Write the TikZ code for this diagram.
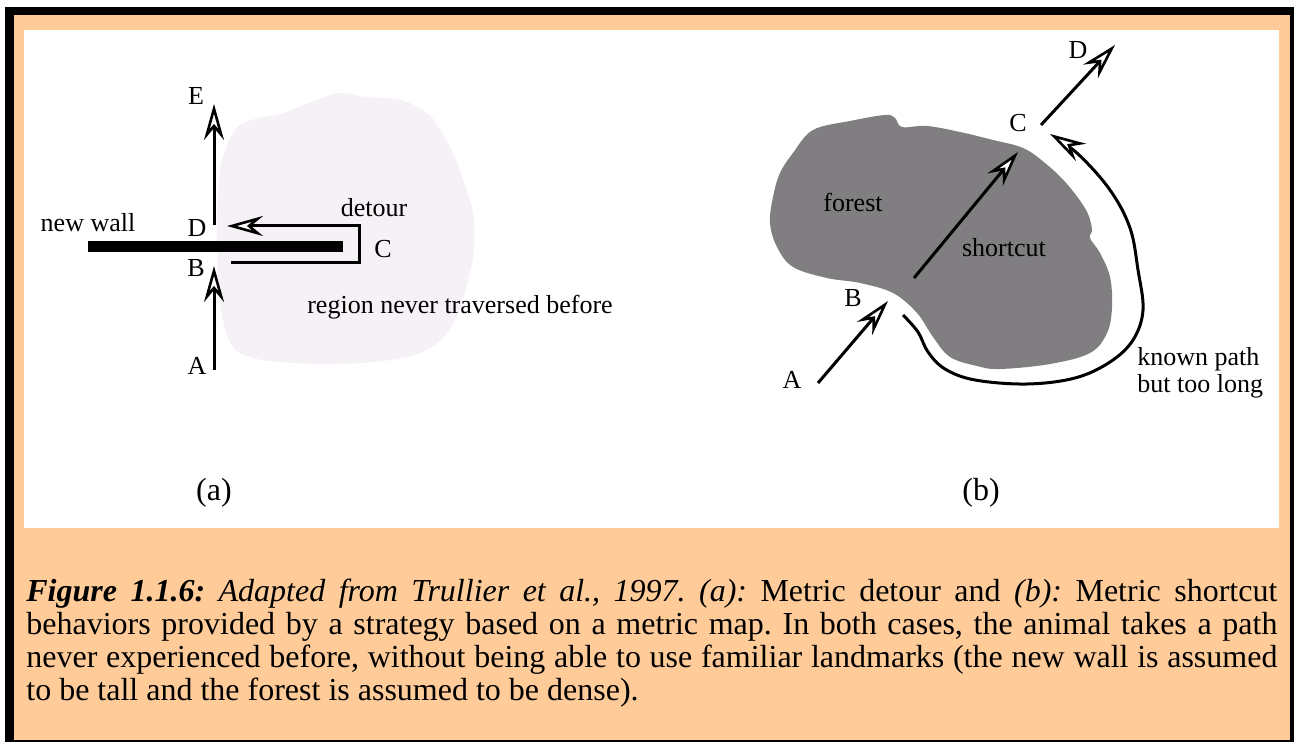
\documentclass[tikz,border=0pt]{standalone}
\usepackage{fontspec}
\setmainfont{Liberation Serif}
\usetikzlibrary{arrows.meta}
\definecolor{peach}{HTML}{FFCC99}
\definecolor{unvisited}{HTML}{F6F1F6}
\definecolor{forestgrey}{HTML}{807E81}
\begin{document}
\begin{tikzpicture}[x=0.5pt, y=-0.5pt,
  route/.style={line width=1.5pt, -{Stealth[length=18pt, width=10pt, inset=6pt, fill=white, line width=1.3pt]}},
  lbl/.style={font=\fontsize{13}{15}\selectfont, inner sep=0pt},
  tag/.style={font=\fontsize{16}{18}\selectfont, inner sep=0pt}]
\useasboundingbox (0,0) rectangle (1294,742);
% frame
\fill (5,7) rectangle (1294,742);
\fill[peach] (14,15) rectangle (1290,740);
\fill[white] (24,30) rectangle (1279,528);

% (a) metric detour
\fill[unvisited] plot[smooth cycle, tension=0.7] coordinates {(223,157) (235,130) (252,120) (283,113) (317,100) (340,93) (367,97) (400,100) (427,113) (440,130) (453,153) (463,180) (473,213) (474,247) (468,280) (455,320) (430,348) (390,360) (330,364) (280,362) (250,357) (233,347) (223,320) (218,280) (217,220) (219,180)};
\fill (88,241) rectangle (343,252);
\coordinate (aA) at (214,370);
\coordinate (aB) at (214,266);
\coordinate (aB2) at (231,263);
\coordinate (aC1) at (359,263);
\coordinate (aC2) at (359,226);
\coordinate (aD) at (227,226);
\coordinate (aD2) at (214,225);
\coordinate (aE) at (214,104);
\draw[route] (aA) -- (aB);
\draw[route] (aB2) -- (aC1) -- (aC2) -- (aD);
\draw[route] (aD2) -- (aE);
\node[lbl] (labA) at (197,366) {A};
\node[lbl] (labB) at (196,268) {B};
\node[lbl] (labC) at (383,249) {C};
\node[lbl] (labD) at (197,228) {D};
\node[lbl] (labE) at (196,96) {E};
\node[lbl] (wall) at (88,223) {new wall};
\node[lbl] (detour) at (374,208) {detour};
\node[lbl] (region) at (460,307) {region never traversed before};
\node[tag] (taga) at (214,493) {(a)};

% (b) metric shortcut
\fill[forestgrey] plot[smooth cycle, tension=0.6] coordinates {(813,130) (850,121) (885,115) (895,118) (902,127) (927,126) (960,132) (993,140) (1023,148) (1045,163) (1067,184) (1086,210) (1092,229) (1090,238) (1100,253) (1110,277) (1112,307) (1107,333) (1090,353) (1050,364) (1000,369) (977,366) (950,357) (933,337) (917,313) (893,293) (860,283) (827,278) (793,267) (777,247) (770,223) (773,197) (780,173) (793,153)};
\coordinate (bA) at (818,383);
\coordinate (bB) at (888,301);
\coordinate (bS1) at (914,278);
\coordinate (bS2) at (1018,152);
\coordinate (bK1) at (903,315);
\coordinate (bK2) at (1050,134);
\coordinate (bC) at (1041,125);
\coordinate (bD) at (1115,45);
\draw[route] (bA) -- (bB);
\draw[route] (bS1) -- (bS2);
\draw[route] plot[smooth, tension=0.6] coordinates {(bK1) (918,332) (928,352) (945,369) (975,380) (1027,384) (1075,378) (1110,362) (1133,340) (1143,310) (1138,270) (1130,228) (1110,190) (1078,154) (bK2)};
\draw[route] (bC) -- (bD);
\node[lbl] (labbA) at (792,380) {A};
\node[lbl] (labbB) at (853,298) {B};
\node[lbl] (labbC) at (1018,123) {C};
\node[lbl] (labbD) at (1078,50) {D};
\node[lbl] (forest) at (853,202) {forest};
\node[lbl] (shortcut) at (1004,248) {shortcut};
\node[lbl, anchor=base west] (known) at (1137,366) {known path};
\node[lbl, anchor=base west] (toolong) at (1137,393) {but too long};
\node[tag] (tagb) at (981,493) {(b)};

% caption
\node[anchor=north west, text width=625.5pt, align=justify, inner sep=0pt, font=\fontsize{16}{16.5}\selectfont\frenchspacing] (caption) at (26,579)
{\textbf{\textit{Figure 1.1.6:}} \textit{Adapted from Trullier et al., 1997. (a):} Metric detour and \textit{(b):} Metric shortcut\linebreak
behaviors provided by a strategy based on a metric map. In both cases, the animal takes a path\linebreak
never experienced before, without being able to use familiar landmarks (the new wall is assumed\linebreak
to be tall and the forest is assumed to be dense).};
\end{tikzpicture}
\end{document}
